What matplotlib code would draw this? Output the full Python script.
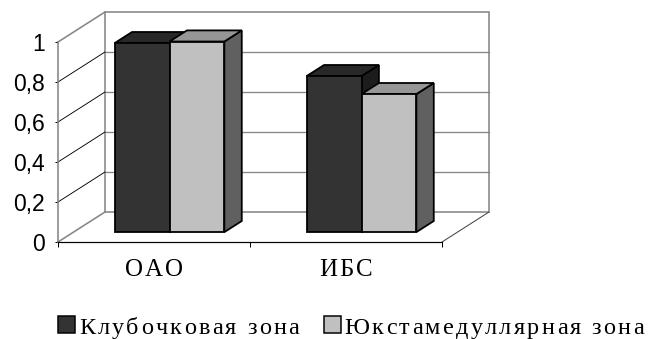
import matplotlib
matplotlib.use("Agg")
import matplotlib.pyplot as plt
from matplotlib.patches import Polygon, Rectangle
from matplotlib.font_manager import FontProperties, findfont
from matplotlib.ft2font import FT2Font
from matplotlib.transforms import IdentityTransform

# ---------------- data ----------------
categories = ["ОАО", "ИБС"]
series_names = ["Клубочковая зона", "Юкстамедуллярная зона"]
glomerular_zone = [0.945, 0.78]
juxtamedullary_zone = [0.953, 0.69]
y_ticks = [0, 0.2, 0.4, 0.6, 0.8, 1.0]
y_tick_labels = ["0", "0,2", "0,4", "0,6", "0,8", "1"]

series_values = [glomerular_zone, juxtamedullary_zone]
# colours per series: front, top, side
series_colors = [("#333333", "#282828", "#1c1c1c"),
                 ("#c0c0c0", "#969696", "#606060")]

W, H, DPI = 651, 339, 100
fig = plt.figure(figsize=(W / DPI, H / DPI), dpi=DPI)
fig.patch.set_facecolor("white")

# front plane of the plot (pixels)
L, R, T, B = 58, 442, 42, 242
ax = fig.add_axes([L / W, 1 - B / H, (R - L) / W, (B - T) / H])
ncat = len(categories)
ax.set_xlim(0, ncat)
ax.set_ylim(0, 1)
ax.set_facecolor("none")

# depth vector of the 3-D box in data units (47 px right, 30 px up)
DX = 47 / (R - L) * ncat
DY = 30 / (B - T) * 1.0

GRAY = "#868686"
px = 72 / DPI

# back wall
ax.add_patch(Polygon([(DX, DY), (ncat + DX, DY), (ncat + DX, 1 + DY), (DX, 1 + DY)],
                     closed=True, facecolor="white", edgecolor=GRAY, lw=1.6 * px,
                     clip_on=False, zorder=1))
for v in y_ticks[1:-1]:
    ax.plot([DX, ncat + DX], [v + DY, v + DY], color=GRAY, lw=1.3 * px,
            clip_on=False, zorder=1.5)
# left wall
for v in y_ticks:
    col, lw = ("black", 0.9 * px) if 0 < v < 1 else (GRAY, 1.6 * px)
    ax.plot([0, DX], [v, v + DY], color=col, lw=lw, clip_on=False, zorder=1.5)
# floor right edge
ax.plot([ncat, ncat + DX], [0, DY], color="#404040", lw=1.0 * px, clip_on=False, zorder=1.5)

# spines / ticks
for s in ["top", "right"]:
    ax.spines[s].set_visible(False)
ax.spines["left"].set_color(GRAY)
ax.spines["left"].set_linewidth(1.6 * px)
ax.spines["bottom"].set_color("black")
ax.spines["bottom"].set_linewidth(1.2 * px)
ax.spines["left"].set_zorder(1.6)
ax.set_yticks(y_ticks)
ax.set_yticklabels(y_tick_labels, fontfamily="Liberation Sans", fontsize=16.5)
ax.tick_params(axis="y", length=3 * px, width=1 * px, pad=10 * px, color="black")
ax.set_xticks(range(ncat + 1))
ax.set_xticklabels([])
ax.tick_params(axis="x", length=5 * px, width=1 * px, color="black")

# bars
nser = len(series_values)
gap = 1.5
bw = 1.0 / (nser + gap)
f1, f2 = 0.33, 0.70
for i in range(ncat):
    for s in range(nser):
        v = series_values[s][i]
        front, top, side = series_colors[s]
        x0 = i + 0.5 - nser * bw / 2 + s * bw
        x1 = x0 + bw
        ox1, oy1 = f1 * DX, f1 * DY
        ox2, oy2 = f2 * DX, f2 * DY
        kw = dict(closed=True, edgecolor="black", lw=1.8 * px, clip_on=False,
                  joinstyle="miter", zorder=3 + i * 10 + s)
        ax.add_patch(Polygon([(x1 + ox1, oy1), (x1 + ox2, oy2), (x1 + ox2, v + oy2),
                              (x1 + ox1, v + oy1)], facecolor=side, **kw))
        ax.add_patch(Polygon([(x0 + ox1, v + oy1), (x1 + ox1, v + oy1),
                              (x1 + ox2, v + oy2), (x0 + ox2, v + oy2)], facecolor=top, **kw))
        ax.add_patch(Polygon([(x0 + ox1, oy1), (x1 + ox1, oy1), (x1 + ox1, v + oy1),
                              (x0 + ox1, v + oy1)], facecolor=front, **kw))

# ------------- letter-spaced serif text helper -------------
serif_fp = FontProperties(family="Liberation Serif")
serif_font = FT2Font(findfont(serif_fp))


def advances(s, size_pt):
    serif_font.set_size(size_pt, DPI)
    return [serif_font.load_char(ord(ch)).linearHoriAdvance / 65536 for ch in s]


def spaced_text(x, y, s, size_pt, spacing, ha="left"):
    """x, y in display pixels (origin bottom-left); y is baseline."""
    adv = advances(s, size_pt)
    total = sum(adv) + spacing * (len(s) - 1)
    if ha == "center":
        x -= total / 2
    for ch, a in zip(s, adv):
        if ch != " ":
            fig.text(x, y, ch, transform=IdentityTransform(), fontproperties=serif_fp,
                     fontsize=size_pt, va="baseline", ha="left", color="black")
        x += a + spacing
    return x

# category labels
cat_size = 18
for i, c in enumerate(categories):
    cx, cy = ax.transData.transform((i + 0.5, 0))
    spaced_text(cx, cy - 34, c, cat_size, 2.0, ha="center")

# legend
leg_size = 17.5
leg_base = H - 334
x = 58
sq = 17
for s, name in enumerate(series_names):
    fig.patches.append(Rectangle((x, leg_base + 1), sq, sq, transform=IdentityTransform(),
                                 facecolor=series_colors[s][0], edgecolor="black",
                                 lw=1.5 * px, figure=fig))
    x += sq + 4
    x = spaced_text(x, leg_base, name, leg_size, 2.3)
    x += 22

fig.savefig("out.png", dpi=DPI)
